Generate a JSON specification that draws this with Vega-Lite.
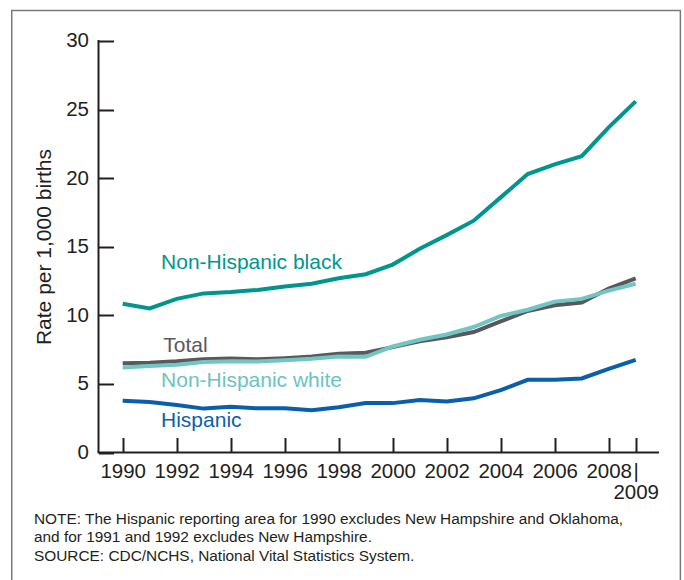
{
  "$schema": "https://vega.github.io/schema/vega-lite/v6.json",
  "width": 670,
  "height": 570,
  "autosize": {"type": "none"},
  "padding": {"left": 11, "top": 10, "right": 3, "bottom": 0},
  "background": "white",
  "config": {
    "view": {"stroke": null},
    "font": "Liberation Sans"
  },
  "datasets": {
    "rates": [
      {"year": 1990, "series": "Hispanic", "rate": 3.78},
      {"year": 1991, "series": "Hispanic", "rate": 3.68},
      {"year": 1992, "series": "Hispanic", "rate": 3.46},
      {"year": 1993, "series": "Hispanic", "rate": 3.2},
      {"year": 1994, "series": "Hispanic", "rate": 3.33},
      {"year": 1995, "series": "Hispanic", "rate": 3.22},
      {"year": 1996, "series": "Hispanic", "rate": 3.22},
      {"year": 1997, "series": "Hispanic", "rate": 3.08},
      {"year": 1998, "series": "Hispanic", "rate": 3.3},
      {"year": 1999, "series": "Hispanic", "rate": 3.6},
      {"year": 2000, "series": "Hispanic", "rate": 3.6},
      {"year": 2001, "series": "Hispanic", "rate": 3.82},
      {"year": 2002, "series": "Hispanic", "rate": 3.72},
      {"year": 2003, "series": "Hispanic", "rate": 3.95},
      {"year": 2004, "series": "Hispanic", "rate": 4.55},
      {"year": 2005, "series": "Hispanic", "rate": 5.3},
      {"year": 2006, "series": "Hispanic", "rate": 5.3},
      {"year": 2007, "series": "Hispanic", "rate": 5.4},
      {"year": 2008, "series": "Hispanic", "rate": 6.1},
      {"year": 2009, "series": "Hispanic", "rate": 6.75},
      {"year": 1990, "series": "Non-Hispanic black", "rate": 10.85},
      {"year": 1991, "series": "Non-Hispanic black", "rate": 10.5},
      {"year": 1992, "series": "Non-Hispanic black", "rate": 11.2},
      {"year": 1993, "series": "Non-Hispanic black", "rate": 11.6},
      {"year": 1994, "series": "Non-Hispanic black", "rate": 11.7},
      {"year": 1995, "series": "Non-Hispanic black", "rate": 11.85},
      {"year": 1996, "series": "Non-Hispanic black", "rate": 12.1},
      {"year": 1997, "series": "Non-Hispanic black", "rate": 12.3},
      {"year": 1998, "series": "Non-Hispanic black", "rate": 12.7},
      {"year": 1999, "series": "Non-Hispanic black", "rate": 13.0},
      {"year": 2000, "series": "Non-Hispanic black", "rate": 13.7},
      {"year": 2001, "series": "Non-Hispanic black", "rate": 14.85},
      {"year": 2002, "series": "Non-Hispanic black", "rate": 15.85},
      {"year": 2003, "series": "Non-Hispanic black", "rate": 16.9},
      {"year": 2004, "series": "Non-Hispanic black", "rate": 18.6},
      {"year": 2005, "series": "Non-Hispanic black", "rate": 20.3},
      {"year": 2006, "series": "Non-Hispanic black", "rate": 21.0},
      {"year": 2007, "series": "Non-Hispanic black", "rate": 21.6},
      {"year": 2008, "series": "Non-Hispanic black", "rate": 23.7},
      {"year": 2009, "series": "Non-Hispanic black", "rate": 25.6},
      {"year": 1990, "series": "Total", "rate": 6.5},
      {"year": 1991, "series": "Total", "rate": 6.55},
      {"year": 1992, "series": "Total", "rate": 6.65},
      {"year": 1993, "series": "Total", "rate": 6.8},
      {"year": 1994, "series": "Total", "rate": 6.85},
      {"year": 1995, "series": "Total", "rate": 6.8},
      {"year": 1996, "series": "Total", "rate": 6.88},
      {"year": 1997, "series": "Total", "rate": 7.0},
      {"year": 1998, "series": "Total", "rate": 7.2},
      {"year": 1999, "series": "Total", "rate": 7.27},
      {"year": 2000, "series": "Total", "rate": 7.68},
      {"year": 2001, "series": "Total", "rate": 8.1},
      {"year": 2002, "series": "Total", "rate": 8.4},
      {"year": 2003, "series": "Total", "rate": 8.78},
      {"year": 2004, "series": "Total", "rate": 9.56},
      {"year": 2005, "series": "Total", "rate": 10.32},
      {"year": 2006, "series": "Total", "rate": 10.73},
      {"year": 2007, "series": "Total", "rate": 10.93},
      {"year": 2008, "series": "Total", "rate": 11.95},
      {"year": 2009, "series": "Total", "rate": 12.7},
      {"year": 1990, "series": "Non-Hispanic white", "rate": 6.2},
      {"year": 1991, "series": "Non-Hispanic white", "rate": 6.3},
      {"year": 1992, "series": "Non-Hispanic white", "rate": 6.4},
      {"year": 1993, "series": "Non-Hispanic white", "rate": 6.6},
      {"year": 1994, "series": "Non-Hispanic white", "rate": 6.65},
      {"year": 1995, "series": "Non-Hispanic white", "rate": 6.63},
      {"year": 1996, "series": "Non-Hispanic white", "rate": 6.73},
      {"year": 1997, "series": "Non-Hispanic white", "rate": 6.83},
      {"year": 1998, "series": "Non-Hispanic white", "rate": 7.0},
      {"year": 1999, "series": "Non-Hispanic white", "rate": 6.98},
      {"year": 2000, "series": "Non-Hispanic white", "rate": 7.73},
      {"year": 2001, "series": "Non-Hispanic white", "rate": 8.22},
      {"year": 2002, "series": "Non-Hispanic white", "rate": 8.6},
      {"year": 2003, "series": "Non-Hispanic white", "rate": 9.15},
      {"year": 2004, "series": "Non-Hispanic white", "rate": 9.95},
      {"year": 2005, "series": "Non-Hispanic white", "rate": 10.41},
      {"year": 2006, "series": "Non-Hispanic white", "rate": 11.0},
      {"year": 2007, "series": "Non-Hispanic white", "rate": 11.2},
      {"year": 2008, "series": "Non-Hispanic white", "rate": 11.8},
      {"year": 2009, "series": "Non-Hispanic white", "rate": 12.3}
    ]
  },
  "layer": [
    {
      "data": {"name": "rates"},
      "mark": {"type": "line", "strokeWidth": 4},
      "encoding": {
        "x": {
          "field": "year", "type": "quantitative",
          "scale": {"domain": [1985.863, 2010.678], "nice": false, "zero": false},
          "axis": {
            "values": [1990, 1992, 1994, 1996, 1998, 2000, 2002, 2004, 2006, 2008, 2009],
            "format": "d",
            "offset": -127.5,
            "domain": false,
            "grid": false,
            "tickSize": -15,
            "tickWidth": 2,
            "tickColor": "#231F20",
            "labelPadding": 24,
            "labelBaseline": "top",
            "labelFontSize": 20.5,
            "labelColor": "#231F20",
            "labelFont": "Liberation Sans",
            "labelExpr": "datum.value == 2009 ? ['|', '2009'] : datum.label",
            "labelLineHeight": 21,
            "labelOverlap": false,
            "labelFlush": false,
            "title": null
          }
        },
        "y": {
          "field": "rate", "type": "quantitative",
          "scale": {"domain": [-9.295, 32.26], "nice": false, "zero": false},
          "axis": {
            "values": [0, 5, 10, 15, 20, 25, 30],
            "offset": -87.5,
            "domain": false,
            "grid": false,
            "tickSize": -15,
            "tickWidth": 2,
            "tickColor": "#231F20",
            "labelPadding": 25,
            "labelFontSize": 20.5,
            "labelColor": "#231F20",
            "labelFont": "Liberation Sans",
            "labelOverlap": false,
            "labelFlush": false,
            "title": "Rate per 1,000 births",
            "titleFont": "Liberation Sans",
            "titleFontSize": 21,
            "titleFontWeight": "normal",
            "titleColor": "#231F20",
            "titleAngle": 270,
            "titleAlign": "center",
            "titleBaseline": "alphabetic",
            "titleX": -48,
            "titleY": 236.5
          }
        },
        "color": {
          "field": "series", "type": "nominal",
          "scale": {
            "domain": ["Hispanic", "Non-Hispanic black", "Total", "Non-Hispanic white"],
            "range": ["#0A5EAA", "#00968F", "#58595B", "#72C5C5"]
          },
          "legend": null
        }
      }
    },
    {
      "data": {"values": [{}]},
      "mark": {"type": "rule", "strokeWidth": 1.5, "color": "#7A7A7A"},
      "encoding": {
        "x": {"datum": 1985.89, "type": "quantitative", "scale": {"domain": [1985.863, 2010.678], "nice": false, "zero": false}},
        "y": {"datum": -9.295, "type": "quantitative", "scale": {"domain": [-9.295, 32.26], "nice": false, "zero": false}},
        "y2": {"datum": 32.23}
      }
    },
    {
      "data": {"values": [{}]},
      "mark": {"type": "rule", "strokeWidth": 1.5, "color": "#7A7A7A"},
      "encoding": {
        "x": {"datum": 2010.655, "type": "quantitative", "scale": {"domain": [1985.863, 2010.678], "nice": false, "zero": false}},
        "y": {"datum": -9.295, "type": "quantitative", "scale": {"domain": [-9.295, 32.26], "nice": false, "zero": false}},
        "y2": {"datum": 32.23}
      }
    },
    {
      "data": {"values": [{}]},
      "mark": {"type": "rule", "strokeWidth": 1.5, "color": "#7A7A7A"},
      "encoding": {
        "x": {"datum": 1985.863, "type": "quantitative", "scale": {"domain": [1985.863, 2010.678], "nice": false, "zero": false}},
        "x2": {"datum": 2010.678},
        "y": {"datum": 32.23, "type": "quantitative", "scale": {"domain": [-9.295, 32.26], "nice": false, "zero": false}}
      }
    },
    {
      "data": {"values": [{}]},
      "mark": {"type": "rule", "strokeWidth": 2, "color": "#231F20"},
      "encoding": {
        "x": {"datum": 1989.104, "type": "quantitative", "scale": {"domain": [1985.863, 2010.678], "nice": false, "zero": false}},
        "y": {"datum": 0, "type": "quantitative", "scale": {"domain": [-9.295, 32.26], "nice": false, "zero": false}},
        "y2": {"datum": 30.07}
      }
    },
    {
      "data": {"values": [{}]},
      "mark": {"type": "rule", "strokeWidth": 2, "color": "#231F20"},
      "encoding": {
        "x": {"datum": 1989.07, "type": "quantitative", "scale": {"domain": [1985.863, 2010.678], "nice": false, "zero": false}},
        "x2": {"datum": 2009.863},
        "y": {"datum": 0, "type": "quantitative", "scale": {"domain": [-9.295, 32.26], "nice": false, "zero": false}}
      }
    },
    {
      "data": {"values": [{}]},
      "mark": {"type": "text", "text": "Non-Hispanic black", "align": "left", "baseline": "alphabetic", "fontSize": 21, "font": "Liberation Sans", "color": "#00968F"},
      "encoding": {
        "x": {"datum": 1991.42, "type": "quantitative", "scale": {"domain": [1985.863, 2010.678], "nice": false, "zero": false}},
        "y": {"datum": 13.38, "type": "quantitative", "scale": {"domain": [-9.295, 32.26], "nice": false, "zero": false}}
      }
    },
    {
      "data": {"values": [{}]},
      "mark": {"type": "text", "text": "Total", "align": "left", "baseline": "alphabetic", "fontSize": 21, "font": "Liberation Sans", "color": "#58595B"},
      "encoding": {
        "x": {"datum": 1991.5, "type": "quantitative", "scale": {"domain": [1985.863, 2010.678], "nice": false, "zero": false}},
        "y": {"datum": 7.35, "type": "quantitative", "scale": {"domain": [-9.295, 32.26], "nice": false, "zero": false}}
      }
    },
    {
      "data": {"values": [{}]},
      "mark": {"type": "text", "text": "Non-Hispanic white", "align": "left", "baseline": "alphabetic", "fontSize": 21, "font": "Liberation Sans", "color": "#6CC3C3"},
      "encoding": {
        "x": {"datum": 1991.42, "type": "quantitative", "scale": {"domain": [1985.863, 2010.678], "nice": false, "zero": false}},
        "y": {"datum": 4.78, "type": "quantitative", "scale": {"domain": [-9.295, 32.26], "nice": false, "zero": false}}
      }
    },
    {
      "data": {"values": [{}]},
      "mark": {"type": "text", "text": "Hispanic", "align": "left", "baseline": "alphabetic", "fontSize": 21, "font": "Liberation Sans", "color": "#0B5FAE"},
      "encoding": {
        "x": {"datum": 1991.42, "type": "quantitative", "scale": {"domain": [1985.863, 2010.678], "nice": false, "zero": false}},
        "y": {"datum": 1.86, "type": "quantitative", "scale": {"domain": [-9.295, 32.26], "nice": false, "zero": false}}
      }
    },
    {
      "data": {"values": [{}]},
      "mark": {
        "type": "text",
        "text": [
          "NOTE: The Hispanic reporting area for 1990 excludes New Hampshire and Oklahoma,",
          "and for 1991 and 1992 excludes New Hampshire.",
          "SOURCE: CDC/NCHS, National Vital Statistics System."
        ],
        "align": "left", "baseline": "alphabetic", "fontSize": 15.4, "lineHeight": 18.5,
        "font": "Liberation Sans", "color": "#231F20"
      },
      "encoding": {
        "x": {"datum": 1986.715, "type": "quantitative", "scale": {"domain": [1985.863, 2010.678], "nice": false, "zero": false}},
        "y": {"datum": -5.2, "type": "quantitative", "scale": {"domain": [-9.295, 32.26], "nice": false, "zero": false}}
      }
    }
  ]
}
